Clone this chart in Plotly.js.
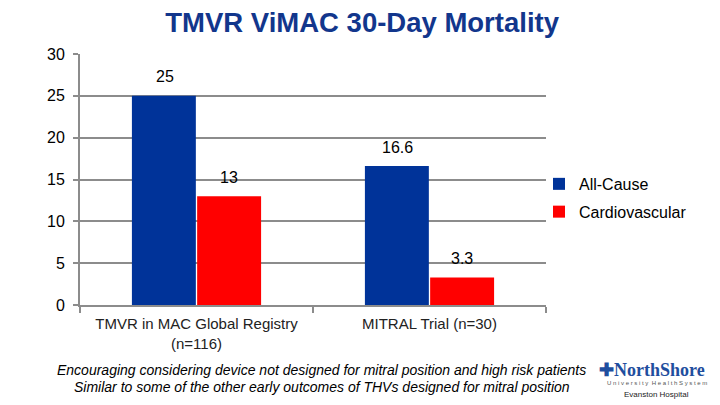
<!DOCTYPE html>
<html><head><meta charset="utf-8">
<script src="https://cdn.plot.ly/plotly-3.0.1.min.js"></script>
<style>html,body{margin:0;padding:0;background:#fff}#chart{width:720px;height:405px}</style>
</head><body><div id="chart"></div>
<script>
const categories = ["TMVR in MAC Global Registry<br>(n=116)", "MITRAL Trial (n=30)"];
const allCause = [25, 16.6];
const cardiovascular = [13, 3.3];
const seriesNames = ["All-Cause", "Cardiovascular"];
const yTicks = [0, 5, 10, 15, 20, 25, 30];

const colors = ["#003399", "#FF0000"];
const data = [
  {type:"bar", name:seriesNames[0], x:categories, y:allCause, marker:{color:colors[0]}, legendgroup:"a"},
  {type:"bar", name:seriesNames[1], x:categories, y:cardiovascular, marker:{color:colors[1]}, legendgroup:"b"}
];

const annotations = [];
[allCause, cardiovascular].forEach((vals, si) => {
  vals.forEach((v, i) => {
    annotations.push({x:categories[i], y:v, xref:"x", yref:"y", text:String(v), showarrow:false,
      xshift: si === 0 ? -32 : 32, yshift: 19, font:{family:"Arial, Liberation Sans", size:16, color:"#000"}});
  });
});
annotations.push(
  {xref:"paper", yref:"paper", x:0.519, y:-0.26, xanchor:"center", yanchor:"middle", showarrow:false,
   text:"<i>Encouraging considering device not designed for mitral position and high risk patients</i>",
   font:{family:"Arial, Liberation Sans", size:14, color:"#000"}},
  {xref:"paper", yref:"paper", x:0.519, y:-0.328, xanchor:"center", yanchor:"middle", showarrow:false,
   text:"<i>Similar to some of the other early outcomes of THVs designed for mitral position</i>",
   font:{family:"Arial, Liberation Sans", size:14, color:"#000"}},
  {xref:"paper", yref:"paper", x:1.228, y:-0.258, xanchor:"center", yanchor:"middle", showarrow:false,
   text:"<b>✚NorthShore</b>", font:{family:"Liberation Serif, DejaVu Serif", size:18, color:"#1f4e9e"}},
  {xref:"paper", yref:"paper", x:1.238, y:-0.312, xanchor:"center", yanchor:"middle", showarrow:false,
   text:"U n i v e r s i t y  H e a l t h S y s t e m", font:{family:"Arial", size:6, color:"#555"}},
  {xref:"paper", yref:"paper", x:1.238, y:-0.355, xanchor:"center", yanchor:"middle", showarrow:false,
   text:"Evanston Hospital", font:{family:"Arial", size:8, color:"#222"}}
);

const layout = {
  width:720, height:405,
  margin:{l:80, r:174, t:54, b:100},
  paper_bgcolor:"#fff", plot_bgcolor:"#fff",
  title:{text:"<b>TMVR ViMAC 30-Day Mortality</b>", x:0.503, xanchor:"center", y:0.945, yanchor:"middle",
         font:{family:"Arial, Liberation Sans", size:27.5, color:"#12368c"}},
  barmode:"group", bargap:0.44, bargroupgap:0.02,
  showlegend:true,
  legend:{x:0.985, y:0.55, xanchor:"left", yanchor:"top", font:{family:"Arial, Liberation Sans", size:16, color:"#000"},
          tracegroupgap:4, itemwidth:30, bgcolor:"rgba(0,0,0,0)"},
  xaxis:{showline:true, linecolor:"#8c8c8c", linewidth:2, ticks:"outside", tickson:"boundaries", ticklen:6,
         tickcolor:"#8c8c8c", tickwidth:2, showgrid:false, ticklabelstandoff:4,
         tickfont:{family:"Arial, Liberation Sans", size:15, color:"#222"}},
  yaxis:{range:[0,30], tickvals:yTicks, showline:true, linecolor:"#8c8c8c", linewidth:2, ticks:"outside",
         ticklen:5, tickcolor:"#8c8c8c", tickwidth:2, showgrid:true, gridcolor:"#8c8c8c", gridwidth:2,
         zeroline:false, tickfont:{family:"Arial, Liberation Sans", size:16, color:"#000"}, ticklabelstandoff:5},
  annotations:annotations
};
Plotly.newPlot("chart", data, layout, {displayModeBar:false, staticPlot:true});
</script></body></html>
